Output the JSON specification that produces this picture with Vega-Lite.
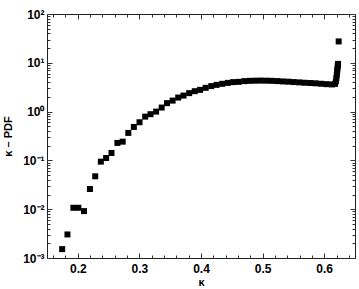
{
  "$schema": "https://vega.github.io/schema/vega-lite/v6.json",
  "width": 308,
  "height": 244,
  "autosize": {"type": "none"},
  "padding": {"left": 47, "top": 14, "right": 4, "bottom": 31},
  "background": "white",
  "config": {
    "view": {"stroke": "#222", "strokeWidth": 1},
    "axis": {"labelFont": "Liberation Sans", "labelFontWeight": "bold", "labelFontSize": 12, "labelColor": "black", "titleFont": "Liberation Sans", "titleFontWeight": "bold", "titleFontSize": 11, "titleColor": "black", "tickColor": "#333", "domain": false, "grid": false}
  },
  "data": {"values": [
    {"k": 0.1746, "pdf": 0.00152},
    {"k": 0.1832, "pdf": 0.00304},
    {"k": 0.1928, "pdf": 0.0107},
    {"k": 0.2009, "pdf": 0.0107},
    {"k": 0.2101, "pdf": 0.00914},
    {"k": 0.2197, "pdf": 0.0259},
    {"k": 0.2283, "pdf": 0.0472},
    {"k": 0.2374, "pdf": 0.0942},
    {"k": 0.246, "pdf": 0.112},
    {"k": 0.2547, "pdf": 0.142},
    {"k": 0.2643, "pdf": 0.228},
    {"k": 0.2729, "pdf": 0.242},
    {"k": 0.282, "pdf": 0.366},
    {"k": 0.291, "pdf": 0.485},
    {"k": 0.3002, "pdf": 0.605},
    {"k": 0.3094, "pdf": 0.789},
    {"k": 0.318, "pdf": 0.885},
    {"k": 0.3271, "pdf": 1.0},
    {"k": 0.3362, "pdf": 1.21},
    {"k": 0.3448, "pdf": 1.49},
    {"k": 0.3539, "pdf": 1.68},
    {"k": 0.363, "pdf": 1.94},
    {"k": 0.3716, "pdf": 2.13},
    {"k": 0.3808, "pdf": 2.39},
    {"k": 0.3899, "pdf": 2.62},
    {"k": 0.3985, "pdf": 2.79},
    {"k": 0.4076, "pdf": 3.07},
    {"k": 0.4167, "pdf": 3.33},
    {"k": 0.4254, "pdf": 3.53},
    {"k": 0.4344, "pdf": 3.71},
    {"k": 0.4436, "pdf": 3.88},
    {"k": 0.4521, "pdf": 4.02},
    {"k": 0.4613, "pdf": 4.07},
    {"k": 0.4704, "pdf": 4.21},
    {"k": 0.4793, "pdf": 4.27},
    {"k": 0.4882, "pdf": 4.3},
    {"k": 0.4971, "pdf": 4.32},
    {"k": 0.506, "pdf": 4.3},
    {"k": 0.5149, "pdf": 4.27},
    {"k": 0.5238, "pdf": 4.22},
    {"k": 0.5327, "pdf": 4.15},
    {"k": 0.5416, "pdf": 4.1},
    {"k": 0.5505, "pdf": 4.03},
    {"k": 0.5594, "pdf": 3.97},
    {"k": 0.5683, "pdf": 3.9},
    {"k": 0.5772, "pdf": 3.85},
    {"k": 0.5861, "pdf": 3.8},
    {"k": 0.595, "pdf": 3.72},
    {"k": 0.6039, "pdf": 3.65},
    {"k": 0.6128, "pdf": 3.6},
    {"k": 0.6175, "pdf": 3.7},
    {"k": 0.619, "pdf": 4.2},
    {"k": 0.6198, "pdf": 4.9},
    {"k": 0.6205, "pdf": 5.7},
    {"k": 0.621, "pdf": 6.6},
    {"k": 0.6215, "pdf": 7.6},
    {"k": 0.622, "pdf": 8.6},
    {"k": 0.6225, "pdf": 9.5},
    {"k": 0.6235, "pdf": 27.4}
  ]},
  "layer": [
    {
      "mark": {"type": "square", "size": 36, "color": "black", "opacity": 1},
      "encoding": {
        "x": {"field": "k", "type": "quantitative", "scale": {"domain": [0.15, 0.65], "nice": false, "zero": false},
          "axis": {"orient": "bottom", "title": "κ", "titlePadding": 0,
            "values": [0.16,0.18,0.2,0.22,0.24,0.26,0.28,0.3,0.32,0.34,0.36,0.38,0.4,0.42,0.44,0.46,0.48,0.5,0.52,0.54,0.56,0.58,0.6,0.62,0.64],
            "labelExpr": "abs(datum.value*10 - round(datum.value*10)) < 0.001 ? format(datum.value, '.1f') : ''",
            "tickSize": {"condition": {"test": "abs(datum.value*10 - round(datum.value*10)) < 0.001", "value": -5}, "value": -3},
            "labelPadding": 10, "labelFlush": false, "labelOverlap": false}},
        "y": {"field": "pdf", "type": "quantitative", "scale": {"type": "log", "domain": [0.001, 100], "nice": false},
          "axis": {"orient": "left", "title": "κ – PDF", "titlePadding": 9,
            "values": [0.001,0.002,0.003,0.004,0.005,0.006,0.007,0.008,0.009,0.01,0.02,0.03,0.04,0.05,0.06,0.07,0.08,0.09,0.1,0.2,0.3,0.4,0.5,0.6,0.7,0.8,0.9,1,2,3,4,5,6,7,8,9,10,20,30,40,50,60,70,80,90,100],
            "labelExpr": "abs(log(datum.value)/LN10 - round(log(datum.value)/LN10)) > 0.01 ? '' : (round(log(datum.value)/LN10) == -3 ? '10⁻³' : round(log(datum.value)/LN10) == -2 ? '10⁻²' : round(log(datum.value)/LN10) == -1 ? '10⁻¹' : round(log(datum.value)/LN10) == 0 ? '10⁰' : round(log(datum.value)/LN10) == 1 ? '10¹' : '10²')",
            "tickSize": {"condition": {"test": "abs(log(datum.value)/LN10 - round(log(datum.value)/LN10)) < 0.01", "value": -5}, "value": -3},
            "labelPadding": 8, "labelFlush": false, "labelOverlap": false}}
      }
    },
    {
      "mark": {"type": "square", "size": 36, "opacity": 0},
      "encoding": {
        "x": {"field": "k", "type": "quantitative",
          "axis": {"orient": "top", "title": null, "labels": false,
            "values": [0.16,0.18,0.2,0.22,0.24,0.26,0.28,0.3,0.32,0.34,0.36,0.38,0.4,0.42,0.44,0.46,0.48,0.5,0.52,0.54,0.56,0.58,0.6,0.62,0.64],
            "tickSize": {"condition": {"test": "abs(datum.value*10 - round(datum.value*10)) < 0.001", "value": -5}, "value": -3}}},
        "y": {"field": "pdf", "type": "quantitative",
          "axis": {"orient": "right", "title": null, "labels": false,
            "values": [0.001,0.002,0.003,0.004,0.005,0.006,0.007,0.008,0.009,0.01,0.02,0.03,0.04,0.05,0.06,0.07,0.08,0.09,0.1,0.2,0.3,0.4,0.5,0.6,0.7,0.8,0.9,1,2,3,4,5,6,7,8,9,10,20,30,40,50,60,70,80,90,100],
            "tickSize": {"condition": {"test": "abs(log(datum.value)/LN10 - round(log(datum.value)/LN10)) < 0.01", "value": -5}, "value": -3}}}
      }
    }
  ],
  "resolve": {"axis": {"x": "independent", "y": "independent"}}
}
